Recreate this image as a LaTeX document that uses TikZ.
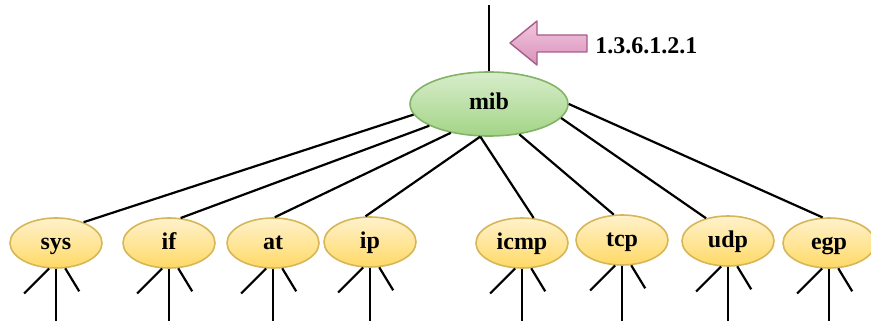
\documentclass[tikz,border=0pt]{standalone}
\usepackage{fontspec}
\setmainfont{Liberation Serif}
\usetikzlibrary{shapes.geometric}

\definecolor{mibtop}{HTML}{D8EDCB}
\definecolor{mibbot}{HTML}{A3D486}
\definecolor{mibline}{HTML}{82B366}
\definecolor{leaftop}{HTML}{FFF2CC}
\definecolor{leafbot}{HTML}{FFD966}
\definecolor{leafline}{HTML}{D6B656}
\definecolor{oidtop}{HTML}{F2C6DF}
\definecolor{oidbot}{HTML}{D992BA}
\definecolor{oidline}{HTML}{A65C8B}

\begin{document}
\begin{tikzpicture}[x=1pt, y=-1pt, line width=2.2pt,
		every node/.style={font=\bfseries\fontsize{24}{28}\selectfont},
		rootnode/.style={ellipse, draw=mibline, line width=1.6pt, top color=mibtop, bottom color=mibbot, minimum width=158pt, minimum height=64pt, inner sep=0pt, text height=16pt, text depth=4pt},
		leafnode/.style={ellipse, draw=leafline, line width=1.6pt, top color=leaftop, bottom color=leafbot, minimum width=92pt, minimum height=50pt, inner sep=0pt, text height=16pt, text depth=4pt},
		oidarrow/.style={draw=oidline, line width=1.4pt, top color=oidtop, bottom color=oidbot, line join=round}]
		
		\useasboundingbox (0,0) rectangle (871,321);
		
		% Nodo radice mib
		\node[rootnode] (mib) at (489,104) {mib};
		\coordinate (top) at (489,5);
		\draw (mib.north) -- (top);
		
		% Freccia con l'OID
		\draw[oidarrow] (510,43) -- (537,21) -- (537,35) -- (587,35) -- (587,52) -- (537,52) -- (537,65) -- cycle;
		\node[anchor=west] (oid) at (591,46) {1.3.6.1.2.1};
		
		% Gruppi figli
		\foreach \n/\x/\y in {sys/56/243, if/169/243, at/273/243, ip/370/242, icmp/522/243, tcp/622/240, udp/728/241, egp/829/243}
			\node[leafnode] (\n) at (\x,\y) {\n};
		
		% Collegamenti mib -> figli
		\foreach \a/\n/\b in {188/sys/37, 200/if/65, 217/at/86, 255/ip/100, 255/icmp/65, 315/tcp/108, 349/udp/134, 0/egp/104}
			\draw (mib.\a) -- (\n.\b);
		
		% Rami sotto ogni figlio
		\foreach \n in {sys, if, at, ip, icmp, tcp, udp, egp} {
			\path (\n.255) ++(-25,25) coordinate (\n-l);
			\path (\n.290) ++(14,23) coordinate (\n-r);
			\path (\n.south) ++(0,55) coordinate (\n-v);
			\draw (\n.255) -- (\n-l);
			\draw (\n.south) -- (\n-v);
			\draw (\n.290) -- (\n-r);
		}
		
	\end{tikzpicture}
\end{document}
